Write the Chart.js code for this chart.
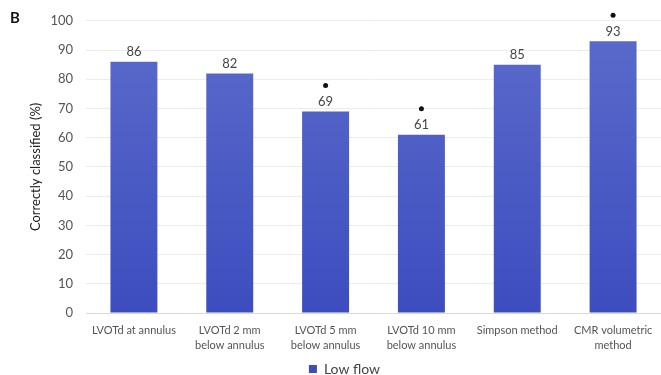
<!DOCTYPE html>
<html>
<head>
<meta charset="utf-8">
<script src="https://cdn.jsdelivr.net/npm/chart.js@4"></script>
<style>
  html, body { margin: 0; padding: 0; background: #fff; }
  #wrap { position: relative; width: 661px; height: 375px; }
  #panel { position: absolute; left: 10px; top: 8px; font: bold 15px Lato, sans-serif; color: #111; }
</style>
</head>
<body>
<div id="wrap">
  <canvas id="flowChart" width="661" height="375"></canvas>
  <div id="panel">B</div>
</div>
<script>
// kategorie i wartości
const categories = [
  'LVOTd at annulus',
  ['LVOTd 2 mm', 'below annulus'],
  ['LVOTd 5 mm', 'below annulus'],
  ['LVOTd 10 mm', 'below annulus'],
  'Simpson method',
  ['CMR volumetric', 'method']
];
const lowFlow = [86, 82, 69, 61, 85, 93];
const significant = [false, false, true, true, false, true];
const yTicks = [0, 10, 20, 30, 40, 50, 60, 70, 80, 90, 100];

const ctx = document.getElementById('flowChart').getContext('2d');

// gradient na słupkach
function barGradient(context) {
  const area = context.chart.chartArea;
  if (!area) return '#4a5bc4';
  const g = context.chart.ctx.createLinearGradient(0, area.top, 0, area.bottom);
  g.addColorStop(0, '#5b6bcb');
  g.addColorStop(1, '#3d4dbf');
  return g;
}

// etykiety nad słupkami + gwiazdki
const labelsPlugin = {
  id: 'barLabels',
  afterDatasetsDraw(chart) {
    const c = chart.ctx;
    const meta = chart.getDatasetMeta(0);
    c.save();
    c.textAlign = 'center';
    c.textBaseline = 'bottom';
    meta.data.forEach((bar, i) => {
      c.fillStyle = '#444';
      c.font = '13px Lato, sans-serif';
      c.fillText(String(lowFlow[i]), bar.x, bar.y - 3);
      if (significant[i]) {
        c.fillStyle = '#111';
        c.beginPath();
        c.arc(bar.x, bar.y - 26, 2.5, 0, Math.PI * 2);
        c.fill();
      }
    });
    c.restore();
  }
};

new Chart(ctx, {
  type: 'bar',
  data: {
    labels: categories,
    datasets: [{
      label: 'Low flow',
      data: lowFlow,
      backgroundColor: barGradient,
      borderWidth: 0,
      categoryPercentage: 1,
      barPercentage: 0.49
    }]
  },
  options: {
    responsive: false,
    animation: false,
    layout: { padding: { top: 14, right: 0, left: 28, bottom: -11 } },
    plugins: {
      legend: {
        position: 'bottom',
        labels: {
          boxWidth: 8, boxHeight: 8, padding: 0,
          color: '#444',
          font: { family: 'Lato, sans-serif', size: 14 }
        }
      },
      tooltip: { enabled: false }
    },
    scales: {
      x: {
        grid: { display: false },
        border: { color: '#d9d9d9' },
        afterFit(scale) { scale.height = 49; },
        ticks: {
          color: '#555',
          font: { family: 'Lato, sans-serif', size: 11, lineHeight: 1.35 },
          maxRotation: 0, padding: 2
        }
      },
      y: {
        min: 0, max: 100,
        afterBuildTicks(axis) { axis.ticks = yTicks.map(v => ({ value: v })); },
        afterFit(scale) { scale.width = 58; },
        grid: { color: '#ececec', drawTicks: false },
        border: { display: false },
        ticks: {
          color: '#555',
          padding: 13,
          font: { family: 'Lato, sans-serif', size: 13 }
        },
        title: {
          display: true,
          text: 'Correctly classified (%)',
          color: '#222',
          padding: { top: 0, bottom: 9 },
          font: { family: 'Lato, sans-serif', size: 13 }
        }
      }
    }
  },
  plugins: [labelsPlugin]
});
</script>
</body>
</html>
